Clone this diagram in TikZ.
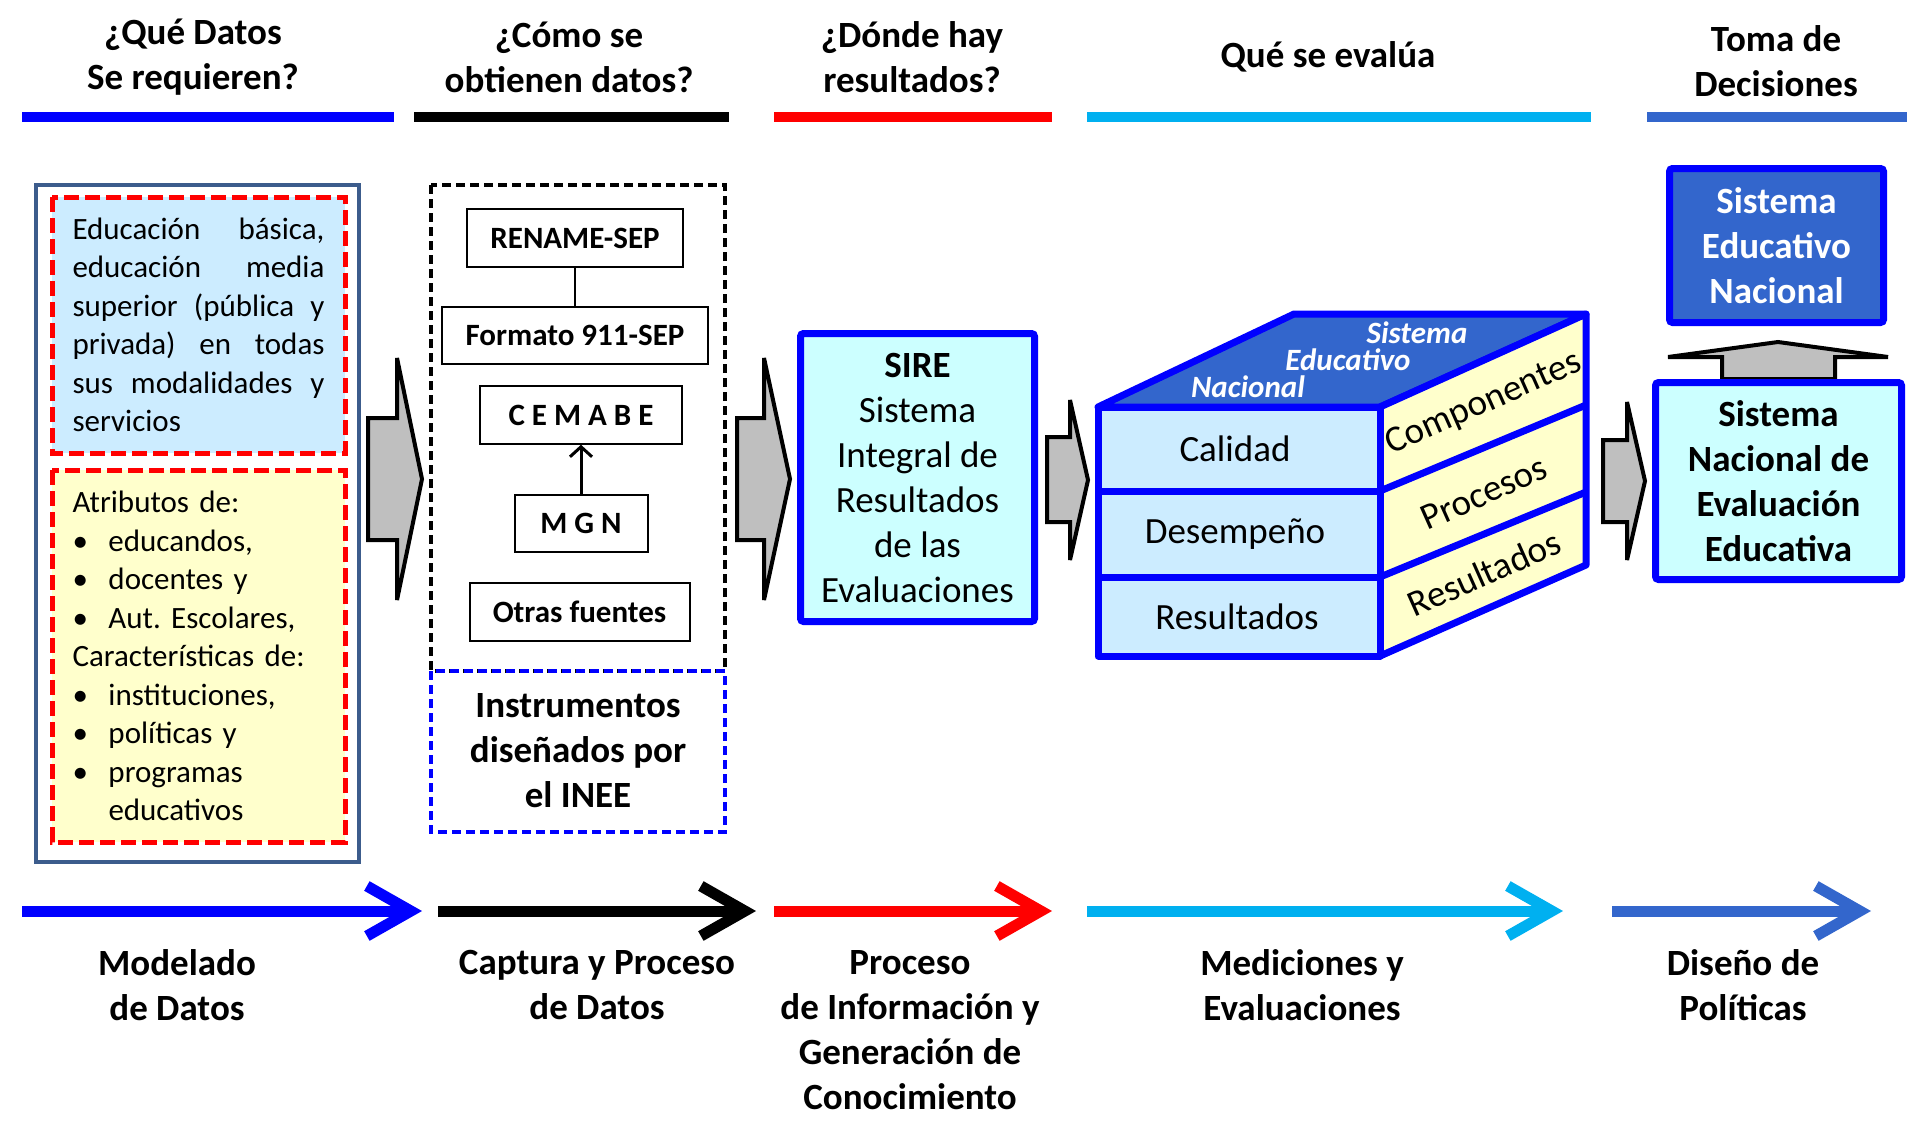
\documentclass[tikz,border=0pt]{standalone}
\usepackage{fontspec}
\setmainfont{Carlito}
\usepackage{tikz}
\usetikzlibrary{positioning,arrows.meta}

\definecolor{frameblue}{RGB}{60,92,140}
\definecolor{paleblue}{HTML}{CCECFF}
\definecolor{paleyellow}{HTML}{FFFFCC}
\definecolor{palecyan}{HTML}{CCFFFF}
\definecolor{midblue}{HTML}{3366CC}
\definecolor{skyblue}{HTML}{00B0F0}
\definecolor{arrowgray}{HTML}{BFBFBF}

\begin{document}
\begin{tikzpicture}[x=0.5pt,y=-0.5pt,
	bigbold/.style={font=\bfseries\fontsize{18.5}{22.5}\selectfont, align=center},
	big/.style={font=\fontsize{18.5}{22.5}\selectfont, align=center},
	bodytext/.style={font=\fontsize{15.5}{19.25}\selectfont, align=left, text width=126pt, inner sep=0pt},
	topital/.style={font=\bfseries\itshape\fontsize{15.5}{18}\selectfont, text=white},
	srcbox/.style={draw, line width=1pt, fill=white, font=\bfseries\fontsize{15.5}{19}\selectfont, minimum height=28.75pt, inner sep=0pt},
	bluebox/.style={draw=blue, line width=3.5pt, rounded corners=1.5pt},
	reddash/.style={draw=red, line width=2.5pt, dash pattern=on 7.5pt off 3pt},
	blackdash/.style={line width=2pt, dash pattern=on 4.5pt off 2.5pt},
	topbar/.style={line width=5pt},
	stagearrow/.style={line width=5.5pt, -{Straight Barb[length=22pt,width=25pt]}},
	blockarrow/.style={draw, line width=2pt, fill=arrowgray, miter limit=5},
	cubeline/.style={draw=blue, line width=3.5pt, line join=round},
]
\useasboundingbox (0,0) rectangle (1930,1125);

% headings
\node[bigbold] (q1) at (193,57) {¿Qué Datos\\Se requieren?};
\node[bigbold] (q2) at (569,57) {¿Cómo se\\obtienen datos?};
\node[bigbold] (q3) at (912,57) {¿Dónde hay\\resultados?};
\node[bigbold] (q4) at (1328,57) {Qué se evalúa};
\node[bigbold] (q5) at (1776,61) {Toma de\\Decisiones};
\draw[topbar, blue] (22,117) -- (394,117);
\draw[topbar, black] (414,117) -- (729,117);
\draw[topbar, red] (774,117) -- (1052,117);
\draw[topbar, skyblue] (1087,117) -- (1591,117);
\draw[topbar, midblue] (1647,117) -- (1907,117);

% data model
\draw[frameblue, line width=2pt] (36,185) rectangle (359,862);
\draw[reddash, fill=paleblue] (52,197) rectangle (345,453);
\draw[reddash, fill=paleyellow] (52,470) rectangle (345,842);
\node[bodytext] (niveles) at (198.5,325) {\makebox[126pt][s]{Educación\hfill básica,}\\
	\makebox[126pt][s]{educación\hfill media}\\
	\makebox[126pt][s]{superior\hfill (pública\hfill y}\\
	\makebox[126pt][s]{privada)\hfill en\hfill todas}\\
	\makebox[126pt][s]{sus\hfill modalidades\hfill y}\\
	servicios};
\node[bodytext] (atributos) at (198.5,656) {Atributos de:\\
	\makebox[18pt][l]{\textbullet}educandos,\\
	\makebox[18pt][l]{\textbullet}docentes y\\
	\makebox[18pt][l]{\textbullet}Aut.\ Escolares,\\
	Características de:\\
	\makebox[18pt][l]{\textbullet}instituciones,\\
	\makebox[18pt][l]{\textbullet}políticas y\\
	\makebox[18pt][l]{\textbullet}programas\\
	\makebox[18pt][l]{}educativos};

% data capture
\draw[blackdash] (431,185) rectangle (725,671);
\draw[blackdash, blue] (431,671) rectangle (725,832);
\node[srcbox, minimum width=108pt] (rename) at (575,238) {RENAME-SEP};
\node[srcbox, minimum width=133pt, below=19pt of rename] (formato) {Formato 911-SEP};
\node[srcbox, minimum width=101pt, below=10pt of formato, xshift=3pt] (cemabe) {C E M A B E};
\node[srcbox, minimum width=66.5pt, below=24.5pt of cemabe] (mgn) {M G N};
\node[srcbox, minimum width=110pt, below=14.5pt of mgn, xshift=-0.75pt] (otras) {Otras fuentes};
\draw[line width=1pt] (rename) -- (formato);
\draw[line width=1.5pt, -{Straight Barb[length=5pt,width=11pt]}] (mgn) -- (cemabe);
\node[bigbold] (inee) at (578,751) {Instrumentos\\diseñados por\\el INEE};

% block arrows
\draw[blockarrow] (368,418) -- (397,418) -- (397,358) -- (422,479) -- (397,600) -- (397,540) -- (368,540) -- cycle;
\draw[blockarrow] (737,418) -- (764,418) -- (764,358) -- (790,479) -- (764,600) -- (764,540) -- (737,540) -- cycle;
\draw[blockarrow] (1047,437) -- (1070,437) -- (1070,400) -- (1088,480) -- (1070,560) -- (1070,522) -- (1047,522) -- cycle;
\draw[blockarrow] (1603,440) -- (1627,440) -- (1627,402) -- (1645,481) -- (1627,560) -- (1627,522) -- (1603,522) -- cycle;

% SIRE
\node[bluebox, fill=palecyan, big, minimum width=117pt, minimum height=144pt] (sire) at (917.5,477.5) {\textbf{SIRE}\\Sistema\\Integral de\\Resultados\\de las\\Evaluaciones};

% cube
\draw[cubeline, fill=midblue] (1098,407) -- (1294,314) -- (1586,314) -- (1380,407) -- cycle;
\draw[cubeline, fill=paleyellow] (1380,407) -- (1586,314) -- (1586,565) -- (1380,656) -- cycle;
\draw[cubeline, fill=paleblue] (1098,407) rectangle (1380,656);
\draw[cubeline] (1098,491) -- (1380,491) (1098,577) -- (1380,577);
\draw[cubeline] (1380,491) -- (1586,405) (1380,577) -- (1586,492);
\node[topital] (sis) at (1417,333) {Sistema};
\node[topital] (edu) at (1348,360) {Educativo};
\node[topital] (nac) at (1248,387) {Nacional};
\node[big] (calidad) at (1235,449) {Calidad};
\node[big] (desempeno) at (1235,534) {Desempeño};
\node[big] (resfront) at (1237,617) {Resultados};
\node[big, rotate=24] (componentes) at (1484,404) {Componentes};
\node[big, rotate=24] (procesos) at (1484,493) {Procesos};
\node[big, rotate=24] (resside) at (1484,573) {Resultados};

% decision
\draw[blockarrow] (1722,379) -- (1722,357) -- (1668,357) -- (1778,342) -- (1888,357) -- (1835,357) -- (1835,379) -- cycle;
\node[bluebox, fill=midblue, text=white, bigbold, minimum width=107pt, minimum height=77pt] (sen) at (1776.5,245.5) {Sistema\\Educativo\\Nacional};
\node[bluebox, fill=palecyan, bigbold, minimum width=123pt, minimum height=98.5pt] (snee) at (1778.5,481) {Sistema\\Nacional de\\Evaluación\\Educativa};

% stages
\draw[stagearrow, blue] (22,911) -- (422,911);
\draw[stagearrow, black] (438,911) -- (756,911);
\draw[stagearrow, red] (774,911) -- (1052,911);
\draw[stagearrow, skyblue] (1087,911) -- (1563,911);
\draw[stagearrow, midblue] (1612,911) -- (1871,911);
\node[bigbold] (s1) at (177,985) {Modelado\\de Datos};
\node[bigbold] (s2) at (597,985) {Captura y Proceso\\de Datos};
\node[bigbold] (s3) at (910,1030) {Proceso\\de Información y\\Generación de\\Conocimiento};
\node[bigbold] (s4) at (1302,985) {Mediciones y\\Evaluaciones};
\node[bigbold] (s5) at (1743,985) {Diseño de\\Políticas};
\end{tikzpicture}
\end{document}
